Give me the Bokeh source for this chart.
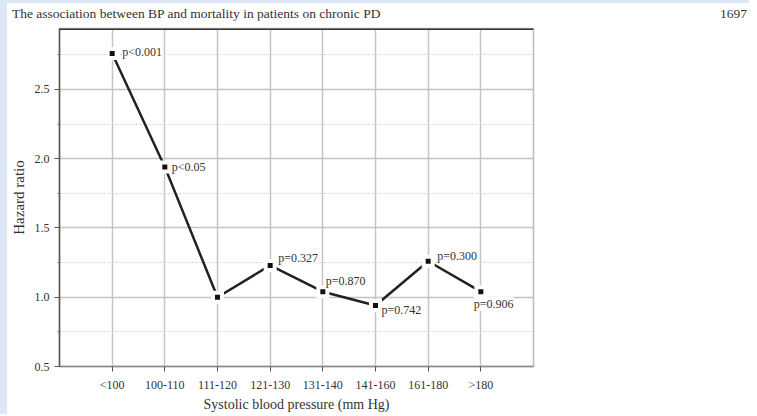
from bokeh.plotting import figure
from bokeh.layouts import column, row
from bokeh.models import (FactorRange, Range1d, FixedTicker, ColumnDataSource, LabelSet,
                          Span, PrintfTickFormatter, Div)
from bokeh.embed import file_html
from bokeh.resources import INLINE

# ---- data ----
categories = ["<100", "100-110", "111-120", "121-130", "131-140", "141-160", "161-180", ">180"]
hazard_ratio = [2.76, 1.94, 1.00, 1.23, 1.04, 0.94, 1.26, 1.04]
p_values = ["p<0.001", "p<0.05", "", "p=0.327", "p=0.870", "p=0.742", "p=0.300", "p=0.906"]
y_major_ticks = [0.5, 1.0, 1.5, 2.0, 2.5]
y_minor_ticks = [0.75, 1.25, 1.75, 2.25, 2.75]
y_start, y_end = 0.5, 2.94
header_text = "The association between BP and mortality in patients on chronic PD"
page_number = "1697"
x_title = "Systolic blood pressure (mm Hg)"
y_title = "Hazard ratio"

# ---- label placement (style only) ----
label_dx = [10, 7, 0, 8, 3, 6, 9, -7]
label_dy = [1, 0, 0, 7, 11, -4, 5, -12]

FONT = "Liberation Serif"
TXT = "#333333"
PAGE_BLUE = "#dde8f6"

src = ColumnDataSource(dict(cat=categories, hr=hazard_ratio, p=p_values,
                            dx=label_dx, dy=label_dy))

# blue page edge on the left
edge = Div(text="", width=7, height=414, margin=0,
           styles={"background-color": PAGE_BLUE})

# page header line
header = Div(
    text=(f'<span style="position:absolute;left:5px;top:4px;line-height:20px;">{header_text}</span>'
          f'<span style="position:absolute;right:2px;top:4px;line-height:20px;">{page_number}</span>'),
    width=742, height=20, margin=0,
    styles={"font-family": FONT, "font-size": "13.5px", "color": TXT,
            "position": "relative", "white-space": "nowrap",
            "background": f"linear-gradient(to bottom, {PAGE_BLUE} 0px, {PAGE_BLUE} 3px, #ffffff 3px)"})

p = figure(width=742, height=394,
           x_range=FactorRange(factors=categories, range_padding=0.5, range_padding_units="absolute"),
           y_range=Range1d(y_start, y_end),
           output_backend="svg", toolbar_location=None, margin=0,
           min_border_left=50, min_border_right=216, min_border_top=8, min_border_bottom=40,
           background_fill_color="white", border_fill_color="white")

p.outline_line_color = "#bdbdbd"
p.outline_line_width = 1.5

# grids
p.xgrid.grid_line_color = "#c4c4c4"
p.xgrid.grid_line_width = 1.5
p.ygrid.grid_line_color = "#c4c4c4"
p.ygrid.grid_line_width = 1.5
p.ygrid.minor_grid_line_color = "#cfcfcf"
p.ygrid.minor_grid_line_dash = "2 2"
p.ygrid.minor_grid_line_width = 1.2

# y axis
yax = p.yaxis[0]
yax.ticker = FixedTicker(ticks=y_major_ticks, minor_ticks=y_minor_ticks)
yax.formatter = PrintfTickFormatter(format="%.1f")
yax.axis_label = y_title
yax.axis_label_text_font = FONT
yax.axis_label_text_font_style = "normal"
yax.axis_label_text_font_size = "15px"
yax.axis_label_text_color = TXT
yax.axis_label_standoff = 5
yax.major_label_text_font = FONT
yax.major_label_text_font_size = "12px"
yax.major_label_text_color = TXT
yax.major_label_standoff = 5
yax.axis_line_color = "#555555"
yax.axis_line_width = 1.5
yax.major_tick_line_color = "#555555"
yax.major_tick_out = 5
yax.major_tick_in = 0
yax.minor_tick_line_color = "#777777"
yax.minor_tick_out = 2
yax.minor_tick_in = 0

# x axis
xax = p.xaxis[0]
xax.axis_label = x_title
xax.axis_label_text_font = FONT
xax.axis_label_text_font_style = "normal"
xax.axis_label_text_font_size = "14px"
xax.axis_label_text_color = TXT
xax.axis_label_standoff = 2
xax.major_label_text_font = FONT
xax.major_label_text_font_size = "12px"
xax.major_label_text_color = TXT
xax.major_label_standoff = 6
xax.axis_line_color = "#888888"
xax.axis_line_width = 1.5
xax.major_tick_line_color = "#555555"
xax.major_tick_out = 5
xax.major_tick_in = 0

# data
p.line(x="cat", y="hr", source=src, line_color="#222222", line_width=2.5)
p.scatter(x="cat", y="hr", source=src, marker="square", size=13,
          fill_color="white", line_color=None)
p.scatter(x="cat", y="hr", source=src, marker="square", size=5,
          fill_color="#111111", line_color=None)

labels = LabelSet(x="cat", y="hr", text="p", source=src, x_offset="dx", y_offset="dy",
                  text_font=FONT, text_font_size="12px", text_color=TXT,
                  text_baseline="middle", text_align="left",
                  background_fill_color="white")
p.add_layout(labels)

# thick top border
p.add_layout(Span(location=y_end, dimension="width", line_color="#333333", line_width=3))

layout = row(edge, column(header, p, spacing=0, margin=0), spacing=0, margin=0)
open("out.html", "w").write(file_html(layout, INLINE))
